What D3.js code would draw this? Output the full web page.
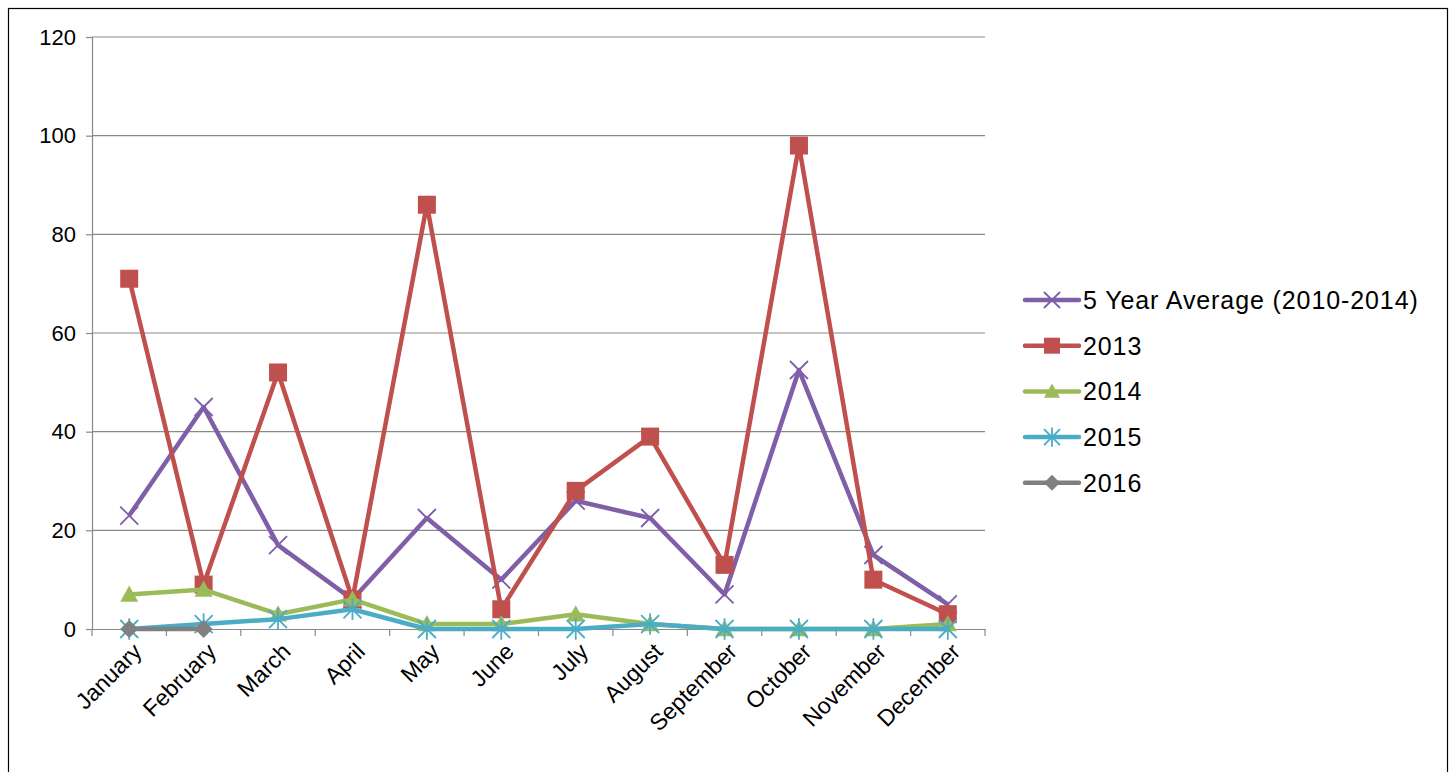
<!DOCTYPE html>
<html><head><meta charset="utf-8">
<script src="https://cdn.jsdelivr.net/npm/d3@7"></script>
<style>body{margin:0;background:#fff}svg{display:block;font-family:"Liberation Sans",Arial,sans-serif}</style>
</head><body><svg id="chart" width="1456" height="772"></svg>
<script>
// chart data
var months = ["January","February","March","April","May","June","July","August","September","October","November","December"];
var avg5 = [23, 45, 17, 6, 22.5, 10, 26, 22.5, 7, 52.5, 15, 5];
var y2013 = [71, 9, 52, 6, 86, 4, 28, 39, 13, 98, 10, 3];
var y2014 = [7, 8, 3, 6, 1, 1, 3, 1, 0, 0, 0, 1];
var y2015 = [0, 1, 2, 4, 0, 0, 0, 1, 0, 0, 0, 0];
var y2016 = [0, 0];
var yTicks = [0, 20, 40, 60, 80, 100, 120];

var series = [
  {name: "5 Year Average (2010-2014)", values: avg5, color: "#7F5FA8", marker: "x"},
  {name: "2013", values: y2013, color: "#C0504D", marker: "square"},
  {name: "2014", values: y2014, color: "#9BBB59", marker: "triangle"},
  {name: "2015", values: y2015, color: "#4BACC6", marker: "star"},
  {name: "2016", values: y2016, color: "#808080", marker: "diamond"}
];

var svg = d3.select("#chart");
// outer frame
svg.append("rect").attr("x", 8.5).attr("y", 8.5).attr("width", 1439).attr("height", 780)
  .attr("fill", "none").attr("stroke", "#000").attr("stroke-width", 1.2);

var x = d3.scaleBand().domain(months).range([92, 985]);
var y = d3.scaleLinear().domain([0, 120]).range([629, 37]);

// gridlines
svg.append("g").selectAll("line").data(yTicks.slice(1)).join("line")
  .attr("x1", 92).attr("x2", 985).attr("y1", d => y(d)).attr("y2", d => y(d))
  .attr("stroke", "#898989").attr("stroke-width", 1.2);

// y axis
var ya = svg.append("g").attr("transform", "translate(92,0)")
  .call(d3.axisLeft(y).tickValues(yTicks).tickSize(6).tickPadding(10));
ya.selectAll("text").attr("font-size", 22).attr("fill", "#000").attr("font-family", "Liberation Sans, Arial");
ya.selectAll("line,path").attr("stroke", "#898989").attr("stroke-width", 1.2);

// x axis
var xa = svg.append("g").attr("transform", "translate(0,629)")
  .call(d3.axisBottom(x).tickSize(0).tickSizeOuter(0));
xa.select("path").attr("stroke", "#898989").attr("stroke-width", 1.2);
xa.selectAll(".tick text").attr("font-size", 23).attr("fill", "#000").attr("font-family", "Liberation Sans, Arial")
  .attr("text-anchor", "end").attr("dy", 0).attr("y", 0)
  .attr("transform", "translate(14,24) rotate(-45)");
// boundary tick marks
svg.append("g").selectAll("line").data(d3.range(13)).join("line")
  .attr("x1", i => 92 + i * x.step()).attr("x2", i => 92 + i * x.step())
  .attr("y1", 629).attr("y2", 636).attr("stroke", "#898989").attr("stroke-width", 1.2);

function drawMarker(g, type, color, s) {
  if (type === "square") g.append("rect").attr("x", -s).attr("y", -s).attr("width", 2*s).attr("height", 2*s).attr("fill", color);
  else if (type === "triangle") g.append("path").attr("d", `M0,${-s}L${s},${s*0.8}L${-s},${s*0.8}Z`).attr("fill", color);
  else if (type === "diamond") g.append("path").attr("d", `M0,${-s}L${s},0L0,${s}L${-s},0Z`).attr("fill", color);
  else if (type === "x") g.append("path").attr("d", `M${-s},${-s}L${s},${s}M${-s},${s}L${s},${-s}`).attr("stroke", color).attr("stroke-width", 1.8);
  else if (type === "star") g.append("path").attr("d", `M${-s},${-s}L${s},${s}M${-s},${s}L${s},${-s}M0,${-s*1.2}L0,${s*1.2}`).attr("stroke", color).attr("stroke-width", 1.8);
}

var line = d3.line().x((d, i) => x(months[i]) + x.bandwidth() / 2).y(d => y(d));
series.forEach(function(s) {
  svg.append("path").attr("d", line(s.values)).attr("fill", "none")
    .attr("stroke", s.color).attr("stroke-width", 4.5).attr("stroke-linejoin", "round");
  s.values.forEach(function(v, i) {
    var g = svg.append("g").attr("transform", `translate(${x(months[i]) + x.bandwidth()/2},${y(v)})`);
    drawMarker(g, s.marker, s.color, 9);
  });
});

// legend
series.forEach(function(s, i) {
  var ly = 300 + i * 45.7;
  svg.append("line").attr("x1", 1025).attr("x2", 1079).attr("y1", ly).attr("y2", ly)
    .attr("stroke", s.color).attr("stroke-width", 4.5).attr("stroke-linecap", "round");
  var g = svg.append("g").attr("transform", `translate(1052,${ly})`);
  drawMarker(g, s.marker, s.color, 8);
  svg.append("text").attr("x", 1083).attr("y", ly + 9).attr("font-size", 25)
    .attr("letter-spacing", 0.9).text(s.name);
});
</script></body></html>
